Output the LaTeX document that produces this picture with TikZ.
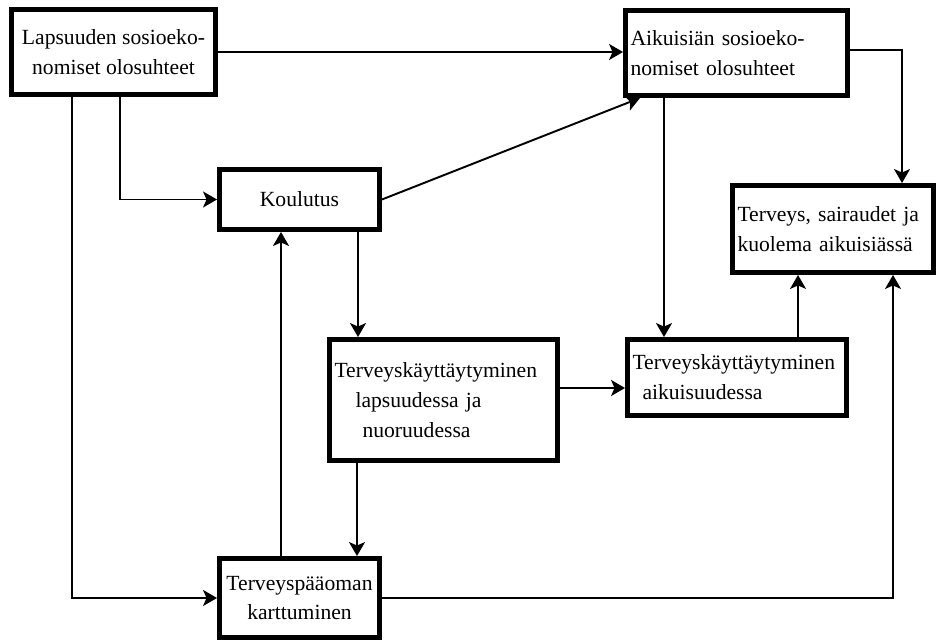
\documentclass[tikz,border=0pt]{standalone}
\usepackage{fontspec}
\setmainfont{Liberation Serif}
\newfontfamily\tms{Liberation Serif}
\usetikzlibrary{arrows.meta}

\begin{document}
\begin{tikzpicture}[font=\tms\fontsize{12.3}{17}\selectfont,
  blok/.style 2 args={draw, line width=2.8pt, minimum width=#1,
               minimum height=#2, inner xsep=0.1cm, align=center},
  pijl/.style={line width=1.1pt, -{Stealth[length=0.28cm, width=0.32cm, inset=0.07cm]}}
]
  \useasboundingbox (0,0) rectangle (18.74,12.84);
  \node[blok={4.08cm}{1.7cm}]  (lapsu)   at (2.27, 11.80) {Lapsuuden sosioeko-\\nomiset olosuhteet};
  \node[blok={4.44cm}{1.7cm}, text width=4.24cm, align=left]  (aikus) at (14.73, 11.78) {Aikuisiän sosioeko-\\nomiset olosuhteet};
  \node[blok={4.02cm}{1.74cm}, text width=3.82cm, align=left] (terveys) at (16.66, 8.26) {Terveys, sairaudet ja\\kuolema aikuisiässä};
  \node[blok={3.2cm}{1.2cm}]   (koul)    at (5.99, 8.85)  {Koulutus};
  \node[blok={4.56cm}{2.42cm}, text width=4.36cm, align=left] (tklaps) at (8.87, 4.84) {Terveyskäyttäytyminen\\\hspace*{0.42cm}lapsuudessa ja\\\hspace*{0.56cm}nuoruudessa};
  \node[blok={4.38cm}{1.52cm}, text width=4.18cm, align=left] (tkaik) at (14.74, 5.29) {Terveyskäyttäytyminen\\\hspace*{0.2cm}aikuisuudessa};
  \node[blok={3.2cm}{1.58cm}]  (paa)     at (5.99, 0.88)  {Terveyspääoman\\karttuminen};

  % yhteydet
  \draw[pijl] (lapsu.east) -- (lapsu.east -| aikus.west);
  \draw[pijl] ([xshift=0.13cm]lapsu.south) |- (koul.west);
  \draw[pijl] ([xshift=-0.83cm]lapsu.south) |- (paa.west);
  \draw[pijl] (koul.east) -- ([xshift=-1.93cm]aikus.south);
  \draw[pijl] ([xshift=1.17cm]koul.south) -- ([xshift=1.17cm]koul.south |- tklaps.north);
  \draw[pijl] ([xshift=-0.37cm]paa.north) -- ([xshift=-0.37cm]paa.north |- koul.south);
  \draw[pijl] ([xshift=-1.73cm]tklaps.south) -- ([xshift=-1.73cm]tklaps.south |- paa.north);
  \draw[pijl] ([yshift=0.24cm]tklaps.east) -- ([yshift=0.24cm]tklaps.east -| tkaik.west);
  \draw[pijl] ([xshift=-1.45cm]aikus.south) -- ([xshift=-1.45cm]aikus.south |- tkaik.north);
  \draw[pijl] ([yshift=0.06cm]aikus.east) -| ([xshift=1.38cm]terveys.north);
  \draw[pijl] ([xshift=1.22cm]tkaik.north) -- ([xshift=1.22cm]tkaik.north |- terveys.south);
  \draw[pijl] (paa.east) -| ([xshift=1.2cm]terveys.south);
\end{tikzpicture}
\end{document}
